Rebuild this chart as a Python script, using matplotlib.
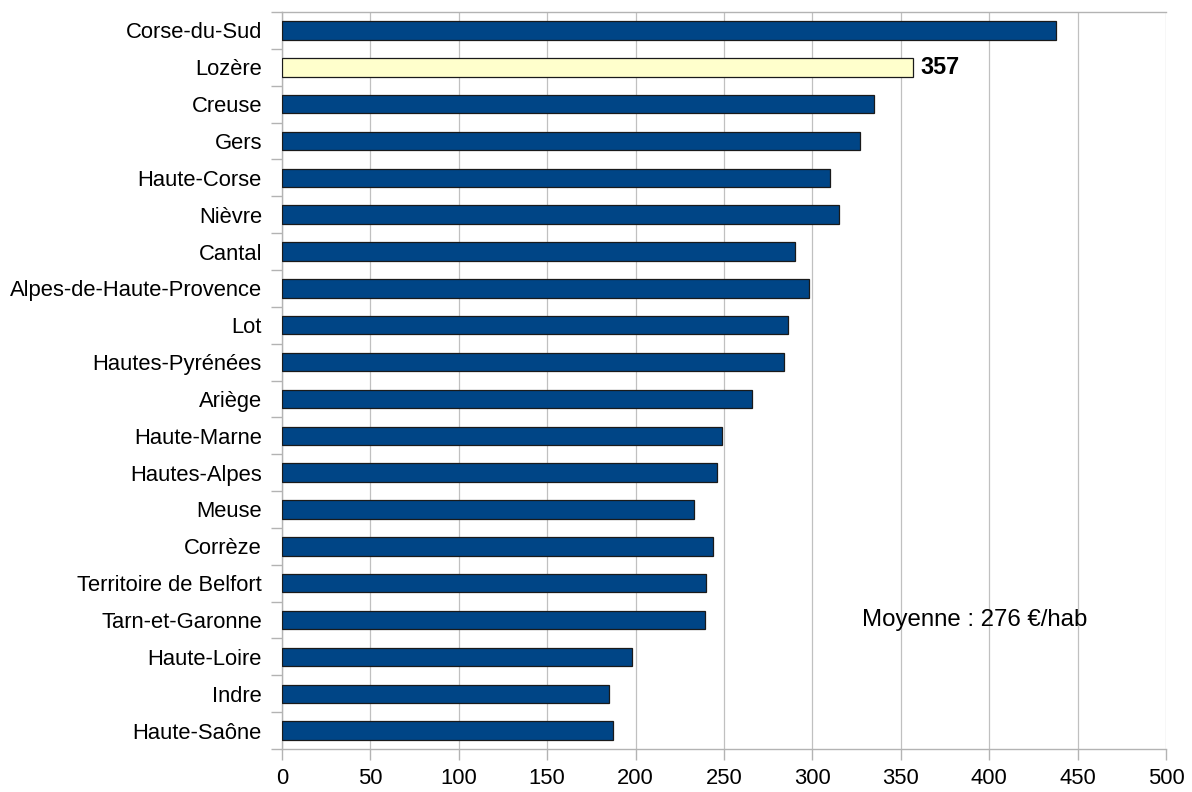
import matplotlib.pyplot as plt
import numpy as np

plt.rcParams['font.family'] = ['Liberation Sans', 'DejaVu Sans']

# === données ===
departements = ["Corse-du-Sud", "Lozère", "Creuse", "Gers", "Haute-Corse", "Nièvre",
                "Cantal", "Alpes-de-Haute-Provence", "Lot", "Hautes-Pyrénées", "Ariège",
                "Haute-Marne", "Hautes-Alpes", "Meuse", "Corrèze", "Territoire de Belfort",
                "Tarn-et-Garonne", "Haute-Loire", "Indre", "Haute-Saône"]
valeurs = [438, 357, 335, 327, 310, 315, 290, 298, 286, 284, 266,
           249, 246, 233, 244, 240, 239, 198, 185, 187]
mis_en_avant = "Lozère"
moyenne = 276
x_ticks = [0, 50, 100, 150, 200, 250, 300, 350, 400, 450, 500]

BLEU = "#004586"
JAUNE = "#ffffcc"

fig = plt.figure(figsize=(11.92, 7.92), dpi=100)
ax = fig.add_axes([0.2366, 0.0543, 0.7416, 0.9305])

y = np.arange(len(departements))
couleurs = [JAUNE if d == mis_en_avant else BLEU for d in departements]
ax.barh(y, valeurs, height=0.5, color=couleurs, edgecolor="#1a1a1a", linewidth=0.9, zorder=3)

# étiquette de la valeur mise en avant
i = departements.index(mis_en_avant)
ax.text(valeurs[i] + 4, y[i], str(valeurs[i]), va="center", ha="left",
        fontsize=16.8, fontweight="bold", zorder=4)

ax.text(328, departements.index("Tarn-et-Garonne"), f"Moyenne : {moyenne} €/hab",
        va="center", ha="left", fontsize=17.3)

ax.set_ylim(len(departements) - 0.5, -0.5)
ax.set_xlim(0, 500)
ax.set_yticks(y)
ax.set_yticklabels(departements, fontsize=15.8)
ax.set_yticks(np.arange(len(departements) + 1) - 0.5, minor=True)
ax.tick_params(axis="y", which="major", length=0, pad=14.5)
ax.tick_params(axis="y", which="minor", length=8, color="#b3b3b3", width=1)
ax.set_xticks(x_ticks)
ax.tick_params(axis="x", length=8, color="#b3b3b3", width=1, labelsize=15.8, pad=5.5)

ax.grid(axis="x", color="#c0c0c0", linewidth=0.9, zorder=0)
for s in ax.spines.values():
    s.set_color("#b3b3b3")
    s.set_linewidth(1)
ax.spines["right"].set_visible(False)

fig.savefig("out.png", dpi=100)
